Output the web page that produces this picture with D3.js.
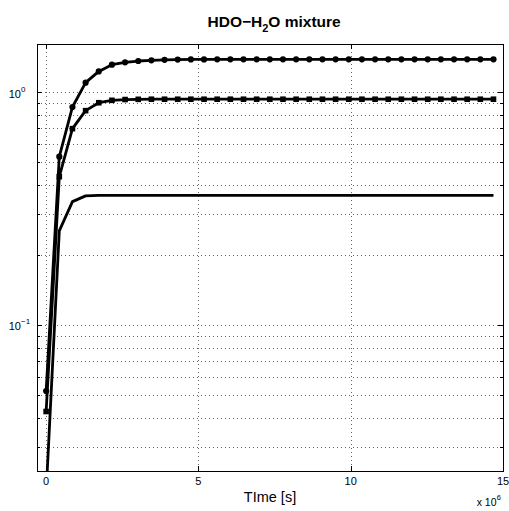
<!DOCTYPE html>
<html>
<head>
<meta charset="utf-8">
<script src="https://cdn.jsdelivr.net/npm/d3@7/dist/d3.min.js"></script>
<style>
  html, body { margin: 0; padding: 0; background: #fff; }
  svg { display: block; }
  text { font-family: "Liberation Sans", Arial, Helvetica, sans-serif; fill: #000; }
</style>
</head>
<body>
<svg id="chart" width="509" height="511"></svg>
<script>
// ---- data (time in units of 1e6 s, one sample every 5 days) ----
const timeMs = [0, 0.432, 0.864, 1.296, 1.728, 2.16, 2.592, 3.024, 3.456, 3.888,
  4.32, 4.752, 5.184, 5.616, 6.048, 6.48, 6.912, 7.344, 7.776, 8.208,
  8.64, 9.072, 9.504, 9.936, 10.368, 10.8, 11.232, 11.664, 12.096, 12.528,
  12.96, 13.392, 13.824, 14.256, 14.688];
const circleSeries = [0.052, 0.529, 0.865, 1.10, 1.23, 1.314, 1.346, 1.363, 1.373, 1.379,
  1.382, 1.384, 1.385, 1.386, 1.386, 1.386, 1.386, 1.386, 1.386, 1.386,
  1.386, 1.386, 1.386, 1.386, 1.386, 1.386, 1.386, 1.386, 1.386, 1.386,
  1.386, 1.386, 1.386, 1.386, 1.386];
const squareSeries = [0.0425, 0.434, 0.698, 0.834, 0.902, 0.924, 0.931, 0.933, 0.934, 0.934,
  0.934, 0.934, 0.934, 0.934, 0.934, 0.934, 0.934, 0.934, 0.934, 0.934,
  0.934, 0.934, 0.934, 0.934, 0.934, 0.934, 0.934, 0.934, 0.934, 0.934,
  0.934, 0.934, 0.934, 0.934, 0.934];
const plainSeries = [0.019, 0.254, 0.339, 0.359, 0.3605, 0.3605, 0.3605, 0.3605, 0.3605, 0.3605,
  0.3605, 0.3605, 0.3605, 0.3605, 0.3605, 0.3605, 0.3605, 0.3605, 0.3605, 0.3605,
  0.3605, 0.3605, 0.3605, 0.3605, 0.3605, 0.3605, 0.3605, 0.3605, 0.3605, 0.3605,
  0.3605, 0.3605, 0.3605, 0.3605, 0.3605];
const xTicks = [0, 5, 10, 15];
const xTickLabels = ["0", "5", "10", "15"];
const yMajor = [0.1, 1];
const yMajorExp = ["\u22121", "0"];
const yMinor = [0.03, 0.04, 0.05, 0.06, 0.07, 0.08, 0.09, 0.2, 0.3, 0.4, 0.5, 0.6, 0.7, 0.8, 0.9];
const titleParts = ["HDO\u2212H", "2", "O mixture"];
const xLabel = "TIme [s]";
const xExponent = "6";

// ---- layout ----
const L = 37, R = 503, T = 44, B = 471;
const svg = d3.select("#chart");
const x = d3.scaleLinear().domain([-0.3, 15]).range([L, R]);
const y = d3.scaleLog().domain([0.02359, 1.613]).range([B, T]);

svg.append("defs").append("clipPath").attr("id", "clip")
  .append("rect").attr("x", L).attr("y", T).attr("width", R - L).attr("height", B - T);

// grid
const grid = svg.append("g").attr("stroke", "#666").attr("stroke-width", 1)
  .attr("stroke-dasharray", "1 3").attr("shape-rendering", "crispEdges");
grid.selectAll(".gx").data(xTicks.filter(d => x(d) > L + 1 && x(d) < R - 1)).join("line")
  .attr("x1", d => Math.round(x(d)) + 0.5).attr("x2", d => Math.round(x(d)) + 0.5)
  .attr("y1", T).attr("y2", B);
grid.selectAll(".gy").data(yMajor.concat(yMinor)).join("line")
  .attr("x1", L).attr("x2", R)
  .attr("y1", d => Math.round(y(d)) + 0.5).attr("y2", d => Math.round(y(d)) + 0.5);

// ticks (inside, all four sides)
const tk = svg.append("g").attr("stroke", "#000").attr("stroke-width", 1).attr("shape-rendering", "crispEdges");
xTicks.forEach(d => {
  const px = Math.round(x(d)) + 0.5;
  tk.append("line").attr("x1", px).attr("x2", px).attr("y1", B).attr("y2", B - 5);
  tk.append("line").attr("x1", px).attr("x2", px).attr("y1", T).attr("y2", T + 5);
});
yMajor.forEach(d => {
  const py = Math.round(y(d)) + 0.5;
  tk.append("line").attr("x1", L).attr("x2", L + 5).attr("y1", py).attr("y2", py);
  tk.append("line").attr("x1", R).attr("x2", R - 5).attr("y1", py).attr("y2", py);
});
yMinor.forEach(d => {
  const py = Math.round(y(d)) + 0.5;
  tk.append("line").attr("x1", L).attr("x2", L + 3).attr("y1", py).attr("y2", py);
  tk.append("line").attr("x1", R).attr("x2", R - 3).attr("y1", py).attr("y2", py);
});

// series
const data = timeMs.map((t, i) => ({ t, c: circleSeries[i], s: squareSeries[i], p: plainSeries[i] }));
const plot = svg.append("g").attr("clip-path", "url(#clip)");
const mkLine = key => d3.line().x(d => x(d.t)).y(d => y(d[key]));
["p", "s", "c"].forEach(k => {
  plot.append("path").datum(data).attr("d", mkLine(k))
    .attr("fill", "none").attr("stroke", "#000").attr("stroke-width", 2.8)
    .attr("stroke-linejoin", "round");
});
plot.selectAll(".sq").data(data).join("rect")
  .attr("x", d => x(d.t) - 2.8).attr("y", d => y(d.s) - 2.8)
  .attr("width", 5.6).attr("height", 5.6).attr("fill", "#000");
plot.selectAll(".ci").data(data).join("circle")
  .attr("cx", d => x(d.t)).attr("cy", d => y(d.c)).attr("r", 3.1).attr("fill", "#000");

// box
svg.append("rect").attr("x", L + 0.5).attr("y", T + 0.5).attr("width", R - L).attr("height", B - T)
  .attr("fill", "none").attr("stroke", "#000").attr("stroke-width", 1).attr("shape-rendering", "crispEdges");

// x tick labels
svg.selectAll(".xl").data(xTicks).join("text")
  .attr("x", d => x(d)).attr("y", 485).attr("text-anchor", "middle")
  .attr("font-size", 11).text((d, i) => xTickLabels[i]);

// y tick labels
yMajor.forEach((d, i) => {
  const py = y(d);
  svg.append("text").attr("x", 21).attr("y", py + 5.2).attr("text-anchor", "end")
    .attr("font-size", 11).text("10");
  svg.append("text").attr("x", 21).attr("y", py - 0.8).attr("text-anchor", "start")
    .attr("font-size", 8).text(yMajorExp[i]);
});

// x label
svg.append("text").attr("x", (L + R) / 2).attr("y", 502).attr("text-anchor", "middle")
  .attr("font-size", 14.5).text(xLabel);
svg.append("text").attr("x", 496.5).attr("y", 505.5).attr("text-anchor", "end")
  .attr("font-size", 10.5).text("x 10");
svg.append("text").attr("x", 496.8).attr("y", 500).attr("text-anchor", "start")
  .attr("font-size", 7.5).text(xExponent);

// title
const title = svg.append("text").attr("x", 207.5).attr("y", 26.7)
  .attr("font-size", 15.5).attr("font-weight", "bold");
title.append("tspan").text(titleParts[0]);
title.append("tspan").attr("dy", 5).attr("font-size", 11).text(titleParts[1]);
title.append("tspan").attr("dy", -5).text(titleParts[2]);
</script>
</body>
</html>
